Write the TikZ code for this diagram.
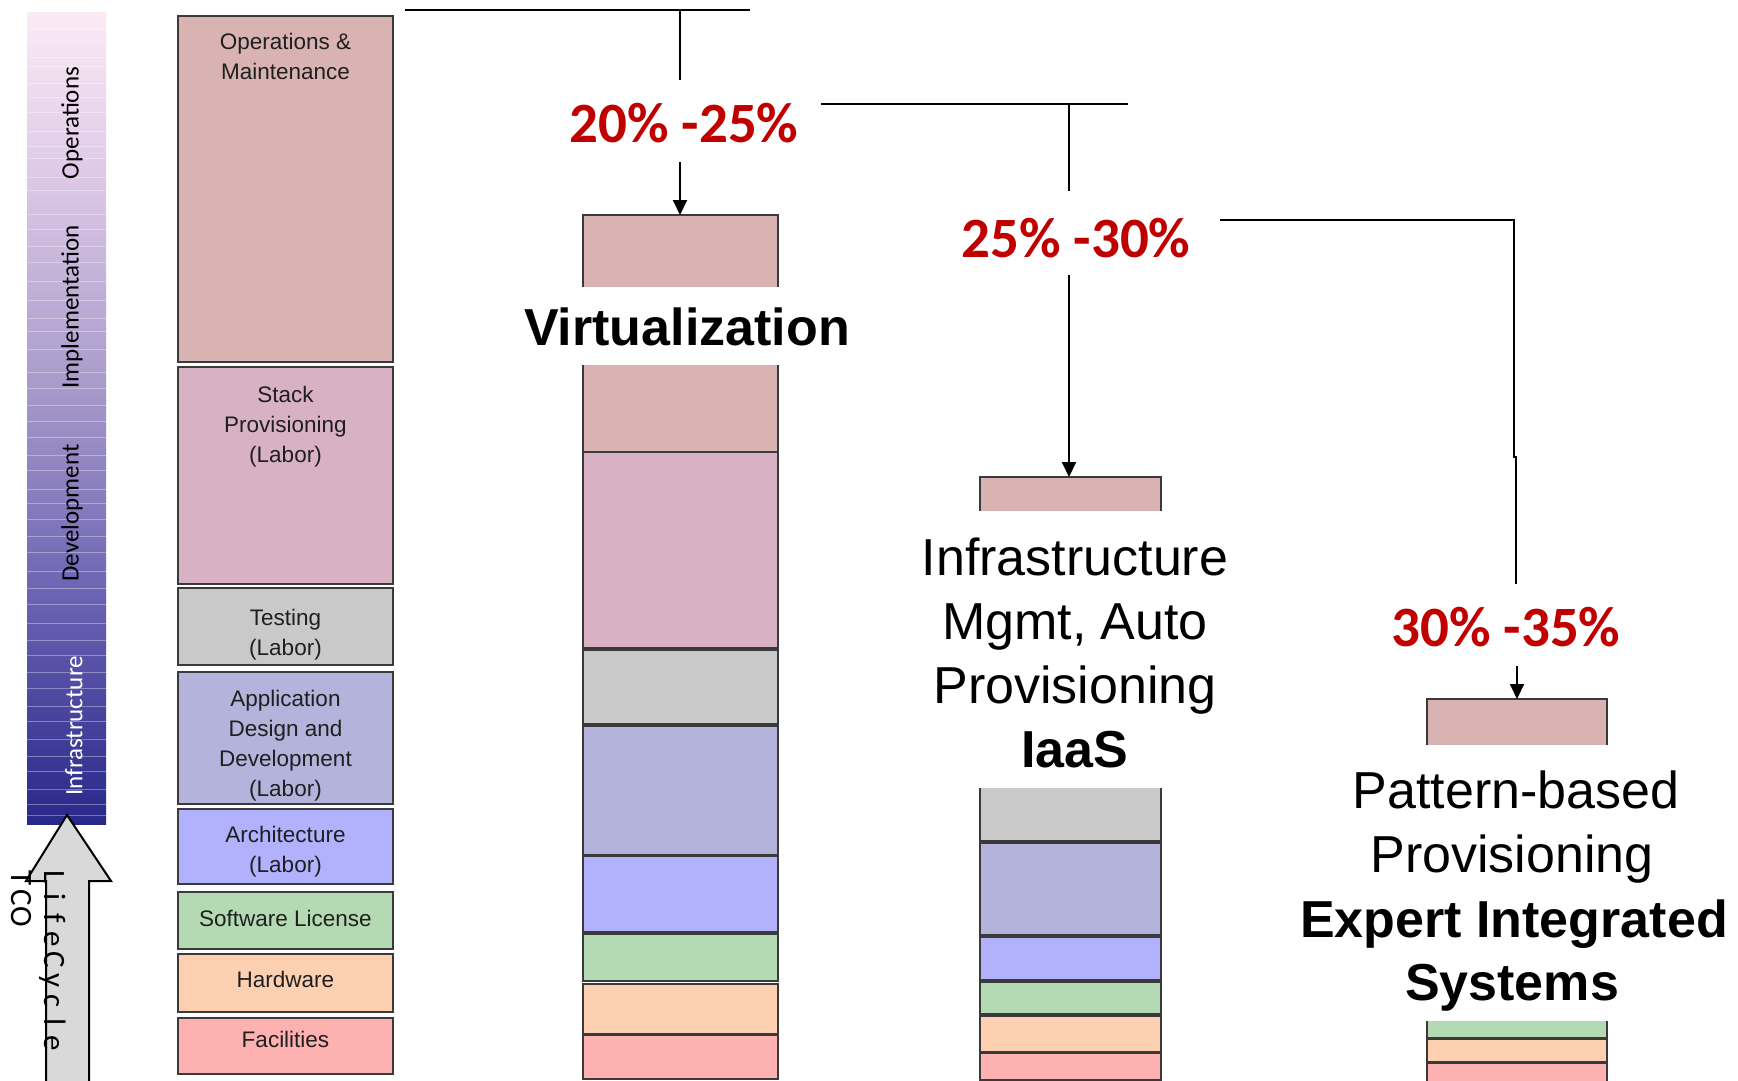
\documentclass[tikz,border=0pt]{standalone}
\usepackage{fontspec}
\setmainfont{Liberation Sans}
\newfontfamily\calfont{Carlito}
\usetikzlibrary{arrows.meta}
\definecolor{cOM}{HTML}{D9B3B2}
\definecolor{cSP}{HTML}{D9B1C5}
\definecolor{cTE}{HTML}{C9C9C9}
\definecolor{cAD}{HTML}{B3B3DB}
\definecolor{cAR}{HTML}{B1B1FD}
\definecolor{cSW}{HTML}{B4DAB4}
\definecolor{cHW}{HTML}{FDD0B1}
\definecolor{cFA}{HTML}{FDB1B1}
\definecolor{pctred}{HTML}{C00000}
\definecolor{edgec}{HTML}{3A3A3A}
\definecolor{gA}{HTML}{FCEAF6}
\definecolor{gB}{HTML}{DCC8E6}
\definecolor{gC}{HTML}{A496C8}
\definecolor{gD}{HTML}{6A62B2}
\definecolor{gE}{HTML}{28288A}
\definecolor{arrowgray}{HTML}{D9D9D9}
\newcommand\spc[2]{\makebox[#1pt]{#2}}
% name, colour, x1, y1, x2, y2
\newcommand\colbox[7][]{\node[boxst,#1,fill=#3,minimum width={#6-#4},minimum height={#7-#5},anchor=north west] (#2) at (#4,#5) {};}
\tikzset{
  boxst/.style={draw=edgec, line width=1.6pt, inner sep=0pt, outer sep=0pt},
  lbox/.style={boxst, line width=2pt},
  ltext/.style={font=\fontsize{22.5}{30}\selectfont, text=black!88, align=center, inner sep=0pt, anchor=north},
  bigtext/.style={font=\fontsize{52}{64}\selectfont, inner sep=0pt, anchor=base},
  bigbold/.style={font=\fontsize{52}{64}\selectfont\bfseries, inner sep=0pt, anchor=base},
  pct/.style={font=\calfont\fontsize{57}{64}\selectfont\bfseries, text=pctred, inner sep=0pt},
  phase/.style={font=\calfont\fontsize{25}{30}\selectfont, rotate=90, inner sep=0pt},
  conn/.style={line width=2pt, black},
  arr/.style={conn, -{Triangle[width=14pt,length=15pt]}},
  cover/.style={fill=white, draw=none}
}
\begin{document}
\begin{tikzpicture}[x=1pt,y=-1pt]
\useasboundingbox (0,0) rectangle (1738,1081);
\fill[white] (0,0) rectangle (1738,1081);

% ---- lifecycle gradient bar ----
\shade[top color=gA, bottom color=gB] (27,13) rectangle (106,181);
\shade[top color=gB, bottom color=gC] (27,180) rectangle (106,401);
\shade[top color=gC, bottom color=gD] (27,400) rectangle (106,601);
\shade[top color=gD, bottom color=gE] (27,600) rectangle (106,824);
\foreach \yy in {28,41,57,66,83,97,112,131,146,158,177,190,214,229,246,262,281,300,318,331,349,372,388,405,421,437,455,470,489,503,519,536,552,571,588,604,623,640,655,672,688,706,721,739,756,771,789,804,815}
  \draw[white, opacity=0.35, line width=0.8pt] (27,\yy) -- (106,\yy);
\node[phase] (ph1) at (72,123) {Operations};
\node[phase] (ph2) at (72,307) {Implementation};
\node[phase] (ph3) at (72,513) {Development};
\node[phase, text=white] (ph4) at (74,726) {Infrastructure};

% ---- big upward arrow ----
\draw[line width=2pt, fill=arrowgray] (46,1095) -- (46,881) -- (26,881) -- (67,815) -- (111,881) -- (89,881) -- (89,1095) -- cycle;
\node[rotate=-90, anchor=west, inner sep=0pt, font=\calfont\fontsize{31}{34}\selectfont] (lc) at (53,866)
  {\spc{20.8}{L}\spc{20.8}{i}\spc{20.8}{f}\spc{20.8}{e}\spc{20.8}{C}\spc{20.8}{y}\spc{20.8}{c}\spc{20.8}{l}\spc{20.8}{e}};
\node[rotate=-90, anchor=west, inner sep=0pt, font=\calfont\fontsize{31}{34}\selectfont] (tco) at (21,868)
  {\spc{19.5}{T}\spc{19.5}{C}\spc{19.5}{O}};

% ---- left column ----
\colbox[lbox]{L1}{cOM}{178}{16}{393}{362}
\colbox[lbox]{L2}{cSP}{178}{367}{393}{584}
\colbox[lbox]{L3}{cTE}{178}{588}{393}{665}
\colbox[lbox]{L4}{cAD}{178}{672}{393}{804}
\colbox[lbox]{L5}{cAR}{178}{809}{393}{884}
\colbox[lbox]{L6}{cSW}{178}{892}{393}{949}
\colbox[lbox]{L7}{cHW}{178}{954}{393}{1012}
\colbox[lbox]{L8}{cFA}{178}{1018}{393}{1074}
\node[ltext] (t1) at (285.5,33) {Operations \&\\Maintenance};
\node[ltext] (t2) at (285.5,386) {Stack\\Provisioning\\(Labor)};
\node[ltext] (t3) at (285.5,609) {Testing\\(Labor)};
\node[ltext] (t4) at (285.5,690) {Application\\Design and\\Development\\(Labor)};
\node[ltext] (t5) at (285.5,826) {Architecture\\(Labor)};
\node[ltext] (t6) at (285.5,910) {Software License};
\node[ltext] (t7) at (285.5,971) {Hardware};
\node[ltext] (t8) at (285.5,1031) {Facilities};

% ---- virtualization column ----
\colbox{V1}{cOM}{583}{215}{778}{452}
\colbox{V2}{cSP}{583}{452}{778}{648}
\colbox{V3}{cTE}{583}{650}{778}{724}
\colbox{V4}{cAD}{583}{726}{778}{855}
\colbox{V5}{cAR}{583}{856}{778}{932}
\colbox{V6}{cSW}{583}{934}{778}{981}
\colbox{V7}{cHW}{583}{984}{778}{1034}
\colbox{V8}{cFA}{583}{1035}{778}{1079}
\fill[cover] (578,287) rectangle (783,365);
\node[bigbold] (virt) at (687,345) {Virtualization};

% ---- IaaS column ----
\colbox{I1}{cOM}{980}{477}{1161}{530}
\colbox{I3}{cTE}{980}{780}{1161}{841}
\colbox{I4}{cAD}{980}{843}{1161}{935}
\colbox{I5}{cAR}{980}{937}{1161}{980}
\colbox{I6}{cSW}{980}{982}{1161}{1014}
\colbox{I7}{cHW}{980}{1016}{1161}{1052}
\colbox{I8}{cFA}{980}{1053}{1161}{1080}
\fill[cover] (975,511) rectangle (1166,788);
\node[bigtext] (ia1) at (1075,575) {Infrastructure};
\node[bigtext] (ia2) at (1075,639) {Mgmt, Auto};
\node[bigtext] (ia3) at (1075,703) {Provisioning};
\node[bigbold] (ia4) at (1075,767) {IaaS};

% ---- expert integrated column ----
\colbox{E1}{cOM}{1427}{699}{1607}{760}
\colbox{E6}{cSW}{1427}{1010}{1607}{1038}
\colbox{E7}{cHW}{1427}{1039}{1607}{1062}
\colbox{E8}{cFA}{1427}{1063}{1607}{1095}
\fill[cover] (1422,745) rectangle (1612,1021);
\node[bigtext] (ex1) at (1516,808) {Pattern-based};
\node[bigtext] (ex2) at (1512,872) {Provisioning};
\node[bigbold] (ex3) at (1514,937) {Expert Integrated};
\node[bigbold] (ex4) at (1512,1000) {Systems};

% ---- percentages ----
\node[pct] (p1) at (684,123) {20\% -25\%};
\node[pct] (p2) at (1076,238) {25\% -30\%};
\node[pct] (p3) at (1506,627) {30\% -35\%};

% ---- connectors ----
\coordinate (h1a) at (405,10);
\coordinate (h1b) at (750,10);
\coordinate (d1a) at (680,10);
\coordinate (d1b) at (680,80);
\coordinate (a1s) at (680,162);
\draw[conn] (h1a) -- (h1b);
\draw[conn] (d1a) -- (d1b);
\draw[arr] (a1s) -- (a1s |- V1.north);

\coordinate (h2a) at (821,104);
\coordinate (h2b) at (1128,104);
\coordinate (d2a) at (1069,104);
\coordinate (d2b) at (1069,191);
\coordinate (a2s) at (1069,275);
\draw[conn] (h2a) -- (h2b);
\draw[conn] (d2a) -- (d2b);
\draw[arr] (a2s) -- (a2s |- I1.north);

\coordinate (h3a) at (1220,220);
\coordinate (h3c) at (1514,457);
\coordinate (h3d) at (1516,457);
\coordinate (h3e) at (1516,584);
\coordinate (a3s) at (1517,666);
\draw[conn] (h3a) -| (h3c) -- (h3d) -- (h3e);
\draw[arr] (a3s) -- (a3s |- E1.north);
\end{tikzpicture}
\end{document}
